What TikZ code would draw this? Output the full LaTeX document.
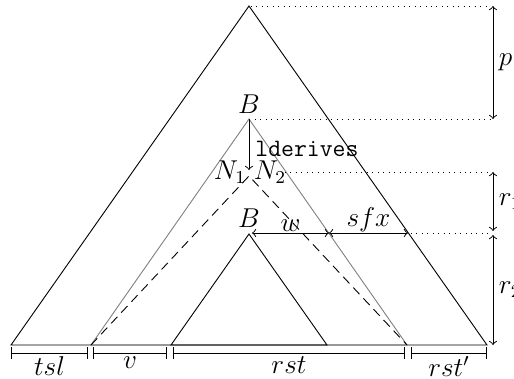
\documentclass[tikz,border=0pt]{standalone}
\usepackage{amsmath}
\usepackage{tikz}
\usetikzlibrary{positioning, calc}

\begin{document}
\begin{tikzpicture}[x=0.44pt,y=-0.44pt, every node/.style={font=\large}]
  \useasboundingbox (0,0) rectangle (514,379);
  % Triangle corners
  \coordinate (T) at (249,6);
  \coordinate (TL) at (11,345);
  \coordinate (TR) at (487,345);
  \coordinate (G) at (249,119);
  \coordinate (GL) at (91,345);
  \coordinate (GR) at (407,345);
  \coordinate (D) at (249,176);
  \coordinate (I) at (249,234);
  \coordinate (IL) at (171,345);
  \coordinate (IR) at (327,345);

  % Draw triangles
  \draw (TL) -- (T) -- (TR) -- cycle;
  \draw[gray] (GL) -- (G) -- (GR) -- cycle;
  \draw[dash pattern=on 4pt off 2.5pt] (GL) -- (D) -- (GR);
  \draw (IL) -- (I) -- (IR) -- cycle;

  % Labels at the apexes
  \node (B1) at (249,104) {$B$};
  \node (B2) at (249,218) {$B$};
  \node (N1) at (230,172) {$N_1$};
  \node (N2) at (270,172) {$N_2$};
  \coordinate (tip) at (249,170);
  \draw[->] (G) -- (tip);
  \node[anchor=west, font=\fontsize{11}{13}\ttfamily, inner sep=0pt] (ld) at (255,149) {lderives};

  % Widths w and sfx
  \coordinate (wL) at (252,233);
  \coordinate (wM) at (329,233);
  \coordinate (wR) at (408,233);
  \draw[<->] (wL) -- node[above=-3pt] {$w$} (wM);
  \draw[<->] (wM) -- node[above=-3pt] {$sfx$} (wR);

  % Dotted levels
  \draw[dotted] (251,6) -- (490,6);
  \draw[dotted] (255,119) -- (490,119);
  \draw[dotted] (285,172) -- (490,172);
  \draw[dotted] (411,233) -- (490,233);

  % Heights
  \coordinate (h0) at (493,6);
  \coordinate (h1) at (493,119);
  \coordinate (h2) at (493,172);
  \coordinate (h3) at (493,231);
  \coordinate (h4) at (493,235);
  \coordinate (h5) at (493,345);
  \draw[<->] (h0) -- node[right=-1pt] {$p$} (h1);
  \draw[<->] (h2) -- node[right=-1pt] {$r_1$} (h3);
  \draw[<->] (h4) -- node[right=-1pt] {$r_2$} (h5);

  % Segments below the base
  \coordinate (s0) at (11,353);
  \coordinate (s1) at (88,353);
  \coordinate (s2) at (93,353);
  \coordinate (s3) at (167,353);
  \coordinate (s4) at (173,353);
  \coordinate (s5) at (405,353);
  \coordinate (s6) at (411,353);
  \coordinate (s7) at (487,353);
  \draw[|-|] (s0) -- node[below=-2pt] {$tsl$} (s1);
  \draw[|-|] (s2) -- node[below=-2pt] {$v$} (s3);
  \draw[|-|] (s4) -- node[below=-2pt] {$rst$} (s5);
  \draw[|-|] (s6) -- node[below=-2pt] {$rst'$} (s7);
\end{tikzpicture}
\end{document}
